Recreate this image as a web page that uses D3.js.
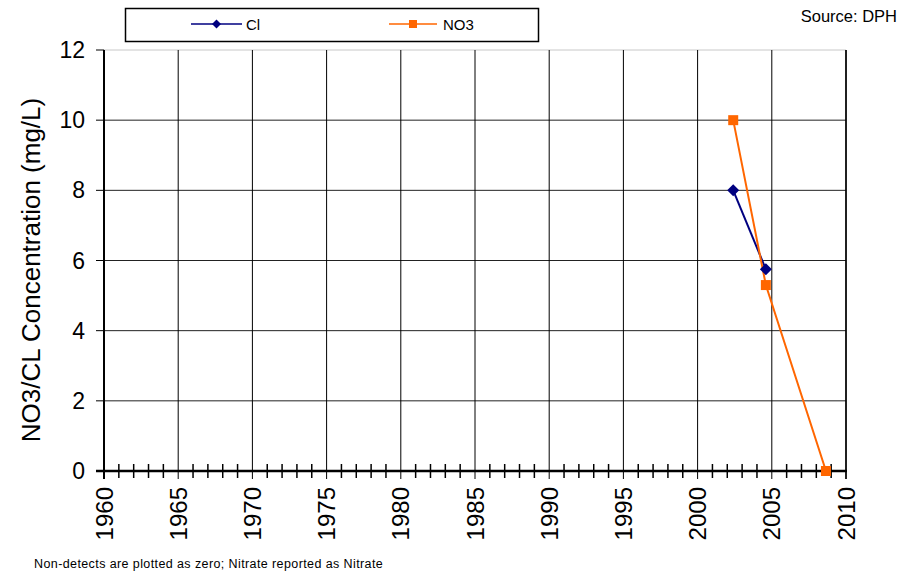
<!DOCTYPE html>
<html><head><meta charset="utf-8">
<script src="https://cdn.jsdelivr.net/npm/d3@7"></script>
<style>body{margin:0;background:#fff}svg{display:block}text{font-family:Arial,"Liberation Sans",sans-serif}</style>
</head><body><svg id="c" width="919" height="576"></svg>
<script>
const clYears = [2002.4, 2004.6];
const clValues = [8, 5.75];
const no3Years = [2002.4, 2004.6, 2008.65];
const no3Values = [10, 5.3, 0];
const xTicks = [1960,1965,1970,1975,1980,1985,1990,1995,2000,2005,2010];
const yTicks = [0,2,4,6,8,10,12];
const seriesNames = ["Cl","NO3"];

const svg = d3.select("#c");
const x = d3.scaleLinear().domain([1960,2010]).range([104,846]);
const y = d3.scaleLinear().domain([0,12]).range([471,50]);

// top border light
svg.append("line").attr("x1",104).attr("x2",846).attr("y1",y(12)).attr("y2",y(12)).attr("stroke","#c8c8c8").attr("stroke-width",1);
// horizontal grid
svg.append("g").selectAll("line").data(yTicks.filter(d=>d>0&&d<12)).join("line")
  .attr("x1",104).attr("x2",846).attr("y1",d=>y(d)).attr("y2",d=>y(d)).attr("stroke","#222").attr("stroke-width",1);
// vertical grid
svg.append("g").selectAll("line").data(xTicks.filter(d=>d>1960)).join("line")
  .attr("x1",d=>x(d)).attr("x2",d=>x(d)).attr("y1",y(12)).attr("y2",479).attr("stroke","#000").attr("stroke-width",1);
// minor ticks
const minor = d3.range(1961,2010).filter(d=>d%5!==0);
svg.append("g").selectAll("line").data(minor).join("line")
  .attr("x1",d=>x(d)).attr("x2",d=>x(d)).attr("y1",464).attr("y2",478).attr("stroke","#000").attr("stroke-width",1.5);
// y ticks
svg.append("g").selectAll("line").data(yTicks).join("line")
  .attr("x1",96).attr("x2",104).attr("y1",d=>y(d)).attr("y2",d=>y(d)).attr("stroke","#000").attr("stroke-width",1);
// axes
svg.append("line").attr("x1",104).attr("x2",104).attr("y1",y(12)).attr("y2",479).attr("stroke","#000").attr("stroke-width",2);
svg.append("line").attr("x1",96).attr("x2",847).attr("y1",y(0)).attr("y2",y(0)).attr("stroke","#000").attr("stroke-width",2.5);
svg.append("line").attr("x1",846).attr("x2",846).attr("y1",y(12)).attr("y2",479).attr("stroke","#000").attr("stroke-width",1.5);

// y tick labels
svg.append("g").selectAll("text").data(yTicks).join("text")
  .attr("x",85).attr("y",d=>y(d)+8).attr("text-anchor","end").attr("font-size",23).text(d=>d);
// x tick labels
svg.append("g").selectAll("text").data(xTicks).join("text")
  .attr("transform",d=>`translate(${x(d)+8.5},487) rotate(-90)`).attr("text-anchor","end").attr("font-size",24).text(d=>d);
// y title
svg.append("text").attr("transform","translate(40,270) rotate(-90)").attr("text-anchor","middle").attr("font-size",26).text("NO3/CL Concentration (mg/L)");

// series
const clData = clYears.map((d,i)=>[d,clValues[i]]);
const no3Data = no3Years.map((d,i)=>[d,no3Values[i]]);
const line = d3.line().x(d=>x(d[0])).y(d=>y(d[1]));
svg.append("path").attr("d",line(clData)).attr("fill","none").attr("stroke","#000080").attr("stroke-width",2);
svg.append("path").attr("d",line(no3Data)).attr("fill","none").attr("stroke","#FF6600").attr("stroke-width",2);
svg.append("g").selectAll("path").data(clData).join("path")
  .attr("transform",d=>`translate(${x(d[0])},${y(d[1])})`).attr("d","M0,-6L6,0L0,6L-6,0Z").attr("fill","#000080");
svg.append("g").selectAll("rect").data(no3Data).join("rect")
  .attr("x",d=>x(d[0])-5).attr("y",d=>y(d[1])-5).attr("width",10).attr("height",10).attr("fill","#FF6600");

// legend
svg.append("rect").attr("x",125.5).attr("y",8.5).attr("width",413).attr("height",33).attr("fill","#fff").attr("stroke","#000").attr("stroke-width",1.5);
const lg = [{name:seriesNames[0],color:"#000080",x1:191,x2:242,tx:246,shape:"d"},{name:seriesNames[1],color:"#FF6600",x1:389,x2:437,tx:443,shape:"s"}];
lg.forEach(l=>{
  svg.append("line").attr("x1",l.x1).attr("x2",l.x2).attr("y1",24).attr("y2",24).attr("stroke",l.color).attr("stroke-width",1.5);
  const mx=(l.x1+l.x2)/2;
  if(l.shape==="d") svg.append("path").attr("transform",`translate(${mx},24)`).attr("d","M0,-4.5L4.5,0L0,4.5L-4.5,0Z").attr("fill",l.color);
  else svg.append("rect").attr("x",mx-4).attr("y",20).attr("width",8).attr("height",8).attr("fill",l.color);
  svg.append("text").attr("x",l.tx).attr("y",29.5).attr("font-size",15).text(l.name);
});

svg.append("text").attr("x",897).attr("y",22).attr("text-anchor","end").attr("font-size",16.5).text("Source: DPH");
svg.append("text").attr("x",34).attr("y",568).attr("font-size",12.5).attr("letter-spacing",0.4).text("Non-detects are plotted as zero; Nitrate reported as Nitrate");
</script></body></html>
